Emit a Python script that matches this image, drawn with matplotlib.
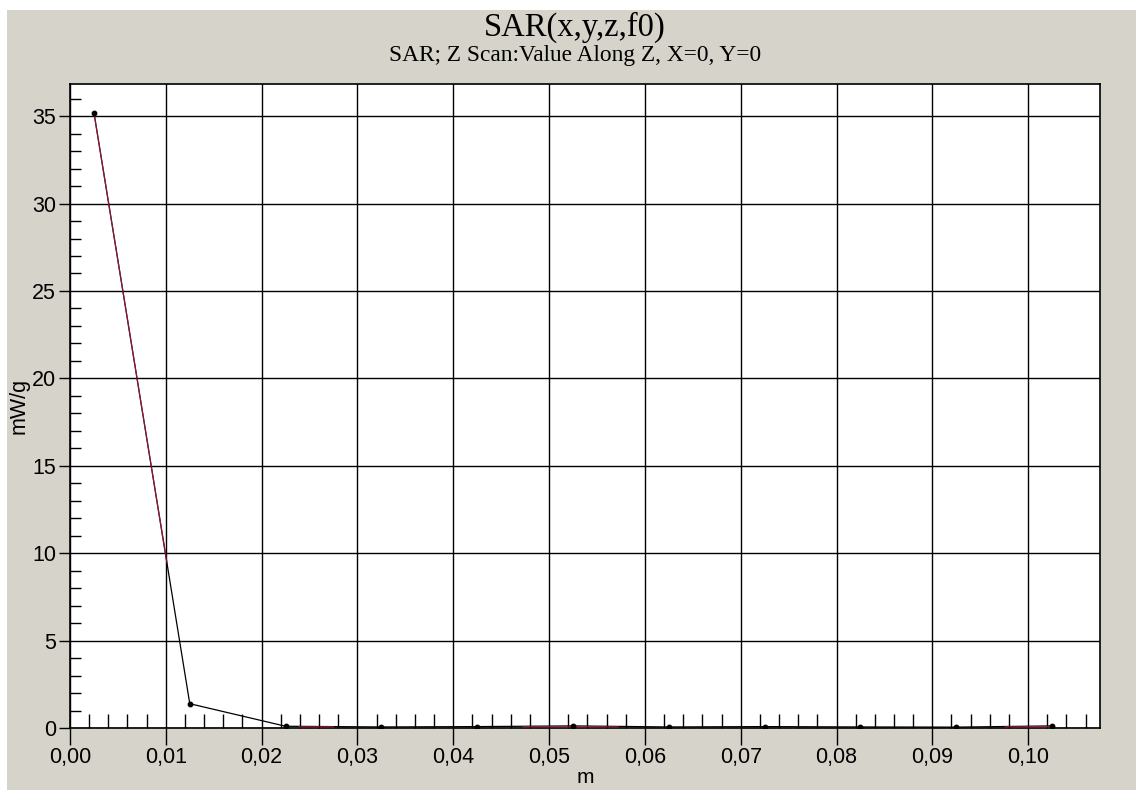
import numpy as np
import matplotlib.pyplot as plt
from matplotlib.patches import Rectangle
from matplotlib.ticker import MultipleLocator, FuncFormatter

# Z scan samples (m, mW/g)
z_pos = [0.0025, 0.0125, 0.0225, 0.0325, 0.0425, 0.0525,
         0.0625, 0.0725, 0.0825, 0.0925, 0.1025]
sar_vals = [35.2, 1.39, 0.10, 0.06, 0.08, 0.12,
            0.06, 0.08, 0.06, 0.05, 0.12]

# red trace segments (mostly hidden under the black trace)
red_x = [0.0025, 0.0101, np.nan, 0.0239, 0.0275, np.nan,
         0.0473, 0.0572, np.nan, 0.0976, 0.1024]
red_y = [35.2, 9.5, np.nan, 0.07, 0.07, np.nan,
         0.07, 0.07, np.nan, 0.07, 0.07]

title = "SAR(x,y,z,f0)"
subtitle = "SAR; Z Scan:Value Along Z, X=0, Y=0"

W, H = 1136, 790
fig = plt.figure(figsize=(W / 100, H / 100), dpi=100, facecolor="white")
fig.patches.append(Rectangle((7 / W, 0), 1, 1 - 10 / H, transform=fig.transFigure,
                             facecolor="#d6d3ca", edgecolor="none", zorder=-5))

ax = fig.add_axes([70 / W, 1 - 728 / H, (1100 - 70) / W, (728 - 84) / H])
ax.set_facecolor("white")

ax.plot(z_pos, sar_vals, color="black", linewidth=0.9, zorder=3)
ax.plot(red_x, red_y, color="#a01a3a", linewidth=0.9, alpha=0.85, zorder=4)
ax.plot(z_pos, sar_vals, "o", color="black", markersize=3.2, zorder=5)

ax.set_xlim(0, 0.1075)
ax.set_ylim(0, 36.84)

ax.xaxis.set_major_locator(MultipleLocator(0.01))
ax.xaxis.set_minor_locator(MultipleLocator(0.002))
ax.yaxis.set_major_locator(MultipleLocator(5))
ax.yaxis.set_minor_locator(MultipleLocator(1))
ax.xaxis.set_major_formatter(FuncFormatter(lambda v, p: f"{v:.2f}".replace(".", ",")))
ax.yaxis.set_major_formatter(FuncFormatter(lambda v, p: f"{v:.0f}"))

ax.grid(True, which="major", color="black", linewidth=1.0)
ax.tick_params(which="major", direction="out", length=12, width=1.0,
               labelsize=15.5, pad=2, colors="black")
ax.tick_params(axis="y", which="major", length=8)
ax.tick_params(which="minor", direction="in", length=10, width=1.0)
ax.tick_params(axis="y", which="minor", length=8)
for lab in ax.get_xticklabels() + ax.get_yticklabels():
    lab.set_family("Liberation Sans")

for s in ax.spines.values():
    s.set_color("black")
    s.set_linewidth(1.2)

ax.set_xlabel("m", fontsize=15, family="Liberation Sans", labelpad=0)
ax.set_ylabel("mW/g", fontsize=15.5, family="Liberation Sans", labelpad=2)

fig.text(575 / W, 1 - 27 / H, title, ha="center", va="center",
         fontsize=23.5, family="Liberation Serif")
fig.text(575 / W, 1 - 56 / H, subtitle, ha="center", va="center",
         fontsize=16.8, family="Liberation Serif")

fig.savefig("out.png", dpi=100)
